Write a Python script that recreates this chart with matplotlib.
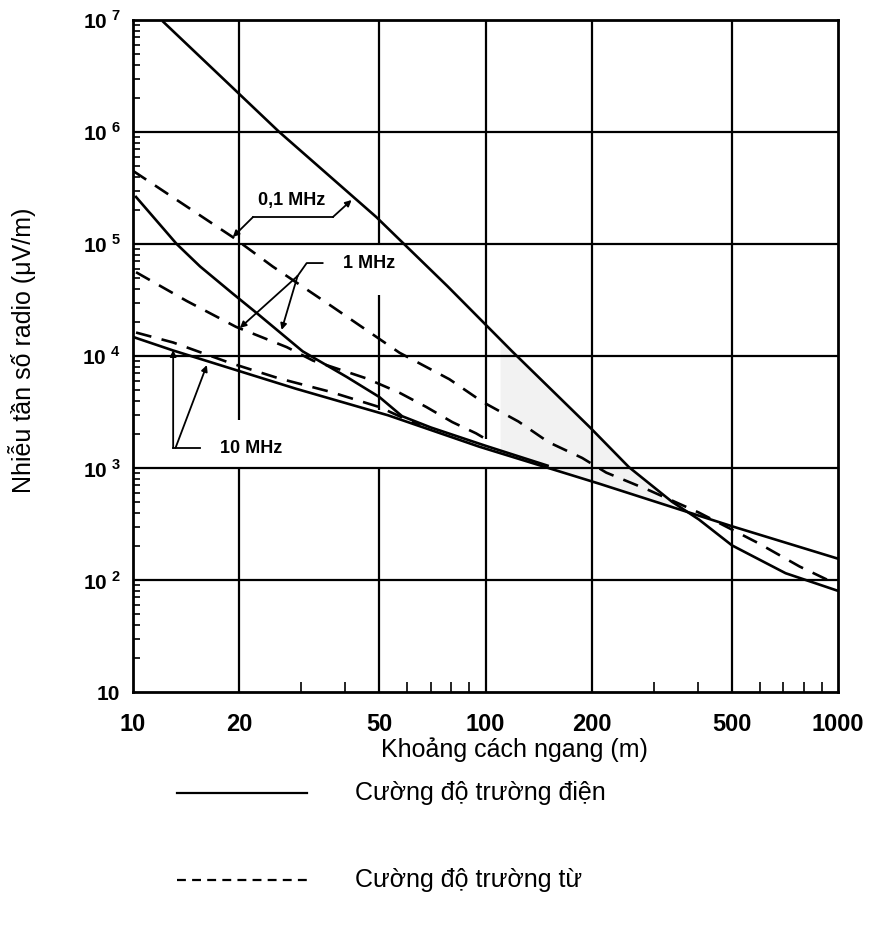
import numpy as np
import matplotlib
matplotlib.use("Agg")
import matplotlib.pyplot as plt
from matplotlib.ticker import LogLocator, NullFormatter

plt.rcParams['font.family'] = ['Liberation Sans', 'DejaVu Sans']
plt.rcParams['mathtext.fontset'] = 'custom'
plt.rcParams['mathtext.rm'] = 'Liberation Sans'
plt.rcParams['mathtext.bf'] = 'Liberation Sans:bold'

# distance (m) -> field (uV/m)
# 0,1 MHz
x_e01 = [12.2, 26, 49, 78, 119, 198, 255, 338, 403, 500, 710, 1000]
y_e01 = [9.6e6, 1.0e6, 1.74e5, 4.2e4, 1.1e4, 2.3e3, 1.02e3, 500, 347, 204, 115, 80]
x_h01 = [10, 19.2, 24.9, 36.8, 57, 79, 98, 124, 151, 188, 220, 292, 403, 593, 778, 975]
y_h01 = [4.5e5, 1.15e5, 6.3e4, 2.75e4, 1.07e4, 6.2e3, 3.9e3, 2.6e3, 1.7e3, 1.23e3, 910, 630, 400, 214, 132, 94]
# 1 MHz
x_e1 = [10.2, 13.3, 15.5, 19.2, 22.5, 30.3, 40.4, 50, 58, 70, 100, 150]
y_e1 = [2.63e5, 1.0e5, 6.3e4, 3.6e4, 2.4e4, 1.1e4, 6.5e3, 4.3e3, 2.9e3, 2.3e3, 1.58e3, 1.05e3]
x_h1 = [10.2, 14.2, 19.6, 27.3, 32.4, 46, 57, 68, 80.5, 94, 100]
y_h1 = [5.6e4, 3.1e4, 1.82e4, 1.2e4, 9.1e3, 6.3e3, 4.7e3, 3.5e3, 2.57e3, 2.04e3, 1.82e3]
# 10 MHz
x_e10 = [10, 13, 18.8, 29, 53, 96, 210, 500, 1000]
y_e10 = [1.48e4, 1.12e4, 7.8e3, 5.1e3, 2.95e3, 1.55e3, 725, 302, 155]
x_h10 = [10.2, 13, 18.8, 26, 36.2, 50, 65]
y_h10 = [1.62e4, 1.32e4, 8.7e3, 6.3e3, 4.8e3, 3.5e3, 2.4e3]

x_ticks = [10, 20, 50, 100, 200, 500, 1000]
x_tick_labels = ["10", "20", "50", "100", "200", "500", "1000"]
y_ticks = [10, 1e2, 1e3, 1e4, 1e5, 1e6, 1e7]
y_tick_labels = ["10"] + [r"$\mathbf{10}^{\ \mathbf{%d}}$" % k for k in range(2, 8)]

# vertical grid lines are broken in places on the original
vgrid = {20: [(10, 1e3), (2.7e3, 1e7)],
         50: [(10, 1e3), (3.3e3, 3.5e4), (1e5, 1e7)],
         100: [(10, 1e3), (1.8e3, 1e7)],
         200: [(10, 1e7)],
         500: [(10, 1e7)]}
hgrid = [1e2, 1e3, 1e4, 1e5, 1e6]

fig = plt.figure(figsize=(8.74, 9.35), dpi=100)
ax = fig.add_axes([133/874, 243/935, 705/874, 672/935])
ax.set_xscale('log')
ax.set_yscale('log')
ax.set_xlim(10, 1000)
ax.set_ylim(10, 1e7)

# faint shaded band where the curves come together
xs = np.logspace(np.log10(110), np.log10(340), 60)
top = 10**np.interp(np.log10(xs), np.log10(x_e01), np.log10(y_e01))
bot = 10**np.interp(np.log10(xs), np.log10(x_e10), np.log10(y_e10))
ax.fill_between(xs, bot, top, color='#f2f2f2', lw=0, zorder=0)

for y in hgrid:
    ax.axhline(y, color='k', lw=1.6, zorder=1)
for x, segs in vgrid.items():
    for y0, y1 in segs:
        ax.vlines(x, y0, y1, color='k', lw=1.6, zorder=1)

lw = 1.9
dash = (0, (6, 4))
ax.plot(x_e01, y_e01, color='k', lw=lw, zorder=3)
ax.plot(x_h01, y_h01, color='k', lw=lw, ls=dash, zorder=3)
ax.plot(x_e1, y_e1, color='k', lw=lw, zorder=3)
ax.plot(x_h1, y_h1, color='k', lw=lw, ls=dash, zorder=3)
ax.plot(x_e10, y_e10, color='k', lw=lw, zorder=3)
ax.plot(x_h10, y_h10, color='k', lw=lw, ls=dash, zorder=3)

# frequency labels with leaders
arr = dict(arrowstyle='-|>', color='k', lw=1.3, mutation_scale=9, shrinkA=0, shrinkB=0)
lk = dict(color='k', lw=1.3, zorder=4)

ax.text(28.2, 2.47e5, "0,1 MHz", fontsize=13, fontweight='bold', ha='center', va='center')
ax.plot([21.9, 36.9], [1.74e5, 1.74e5], **lk)
ax.annotate('', xy=(19.2, 1.155e5), xytext=(21.9, 1.74e5), arrowprops=arr)
ax.annotate('', xy=(41.7, 2.47e5), xytext=(36.9, 1.74e5), arrowprops=arr)

ax.text(39.4, 6.76e4, "1 MHz", fontsize=13, fontweight='bold', ha='left', va='center')
ax.plot([34.5, 31.1, 29.3], [6.76e4, 6.76e4, 5.18e4], **lk)
ax.annotate('', xy=(20.1, 1.78e4), xytext=(29.3, 5.18e4), arrowprops=arr)
ax.annotate('', xy=(26.4, 1.71e4), xytext=(29.3, 5.18e4), arrowprops=arr)

ax.text(17.6, 1.48e3, "10 MHz", fontsize=13, fontweight='bold', ha='left', va='center')
ax.plot([15.5, 13.0], [1.51e3, 1.51e3], **lk)
ax.annotate('', xy=(13.0, 1.13e4), xytext=(13.0, 1.51e3), arrowprops=arr)
ax.annotate('', xy=(16.2, 8.3e3), xytext=(13.2, 1.51e3), arrowprops=arr)

ax.set_xticks(x_ticks)
ax.set_xticklabels(x_tick_labels, fontsize=17, fontweight='bold')
ax.set_yticks(y_ticks)
ax.set_yticklabels(y_tick_labels, fontsize=15, fontweight='bold')
ax.xaxis.set_minor_locator(LogLocator(base=10, subs=np.arange(2, 10), numticks=20))
ax.yaxis.set_minor_locator(LogLocator(base=10, subs=np.arange(2, 10), numticks=20))
ax.xaxis.set_minor_formatter(NullFormatter())
ax.yaxis.set_minor_formatter(NullFormatter())
ax.tick_params(axis='x', which='major', length=0, pad=15)
ax.tick_params(axis='y', which='major', length=0, pad=9)
ax.tick_params(which='minor', direction='in', width=1.2)
ax.tick_params(axis='x', which='minor', length=7)
ax.tick_params(axis='y', which='minor', length=5)
for s in ax.spines.values():
    s.set_linewidth(2)

fig.text(514/874, 1 - 750/935, "Khoảng cách ngang (m)", fontsize=18, ha='center', va='center')
fig.text(22/874, 1 - 350/935, "Nhiễu tần số radio (μV/m)", fontsize=18,
         rotation=90, ha='center', va='center')

# legend drawn by hand under the chart
fig.add_artist(plt.Line2D([177/874, 307/874], [1 - 793/935, 1 - 793/935], color='k', lw=1.6))
fig.add_artist(plt.Line2D([177/874, 307/874], [1 - 880/935, 1 - 880/935], color='k', lw=1.6,
                          ls=(0, (4, 2.8))))
fig.text(355/874, 1 - 793/935, "Cường độ trường điện", fontsize=18, ha='left', va='center')
fig.text(355/874, 1 - 880/935, "Cường độ trường từ", fontsize=18, ha='left', va='center')

fig.savefig("out.png", dpi=100)
